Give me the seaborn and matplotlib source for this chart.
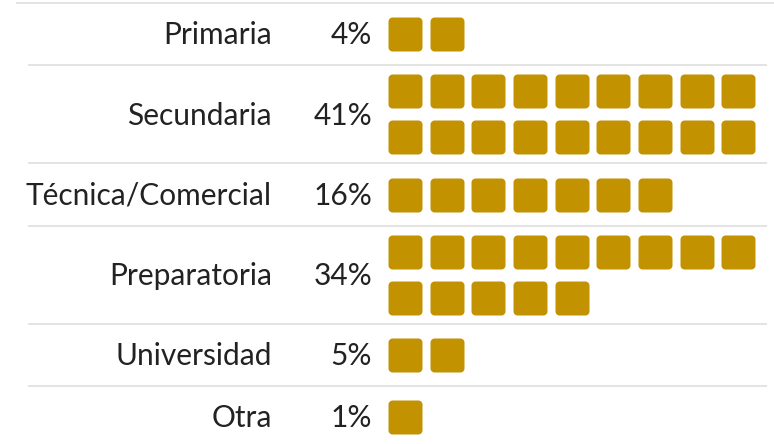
import matplotlib
matplotlib.use("Agg")
import matplotlib.pyplot as plt
from matplotlib.path import Path
import numpy as np
import pandas as pd
import seaborn as sns

# data
categories = ['Primaria', 'Secundaria', 'Técnica/Comercial', 'Preparatoria', 'Universidad', 'Otra']
percents = [4, 41, 16, 34, 5, 1]
squares = [2, 18, 7, 14, 2, 1]

GOLD = '#c29200'
TEXT = '#222222'
GRID = '#dedede'
PER_ROW = 9

sns.set_theme(style='white')
plt.rcParams['font.family'] = ['Lato', 'DejaVu Sans']


def rounded_square(r=0.24, n=8):
    # unit square (-1..1) with rounded corners, used as a scatter marker
    verts = []
    for cx, cy, a0 in [(1 - r, 1 - r, 0), (-1 + r, 1 - r, 90), (-1 + r, -1 + r, 180), (1 - r, -1 + r, 270)]:
        for a in np.linspace(a0, a0 + 90, n):
            t = np.radians(a)
            verts.append((cx + r * np.cos(t), cy + r * np.sin(t)))
    verts.append(verts[0])
    codes = [Path.MOVETO] + [Path.LINETO] * (len(verts) - 2) + [Path.CLOSEPOLY]
    return Path(verts, codes)


# layout of the rows (pixel space)
top = 3.5
edges = [top]
for n in squares:
    edges.append(edges[-1] + (98 if n > PER_ROW else 62))

rows = []
for i, (cat, n) in enumerate(zip(categories, squares)):
    mid = (edges[i] + edges[i + 1]) / 2
    nrows = int(np.ceil(n / PER_ROW))
    for k in range(n):
        r, c = divmod(k, PER_ROW)
        y = mid + (r - (nrows - 1) / 2) * 46
        rows.append({'cat': cat, 'x': 405 + c * 41.67, 'y': y})
df = pd.DataFrame(rows)

fig = plt.figure(figsize=(7.74, 4.44), dpi=100)
ax = fig.add_axes([0, 0, 1, 1])
ax.set_xlim(0, 774)
ax.set_ylim(444, 0)
ax.axis('off')

# separators
ax.hlines(edges[0], 16, 774, color=GRID, lw=1.2)
ax.hlines(edges[1:-1], 28, 767, color=GRID, lw=1.2)

sns.scatterplot(data=df, x='x', y='y', marker=rounded_square(), s=599,
                color=GOLD, linewidth=0, legend=False, ax=ax)

for i, (cat, p) in enumerate(zip(categories, percents)):
    mid = (edges[i] + edges[i + 1]) / 2
    ax.text(272, mid + 10, cat, ha='right', va='baseline', fontsize=21.5, color=TEXT)
    ax.text(372, mid + 10, f'{p}%', ha='right', va='baseline', fontsize=21.5, color=TEXT)

ax.set_xlabel('')
ax.set_ylabel('')
plt.savefig('out.png', dpi=100)
